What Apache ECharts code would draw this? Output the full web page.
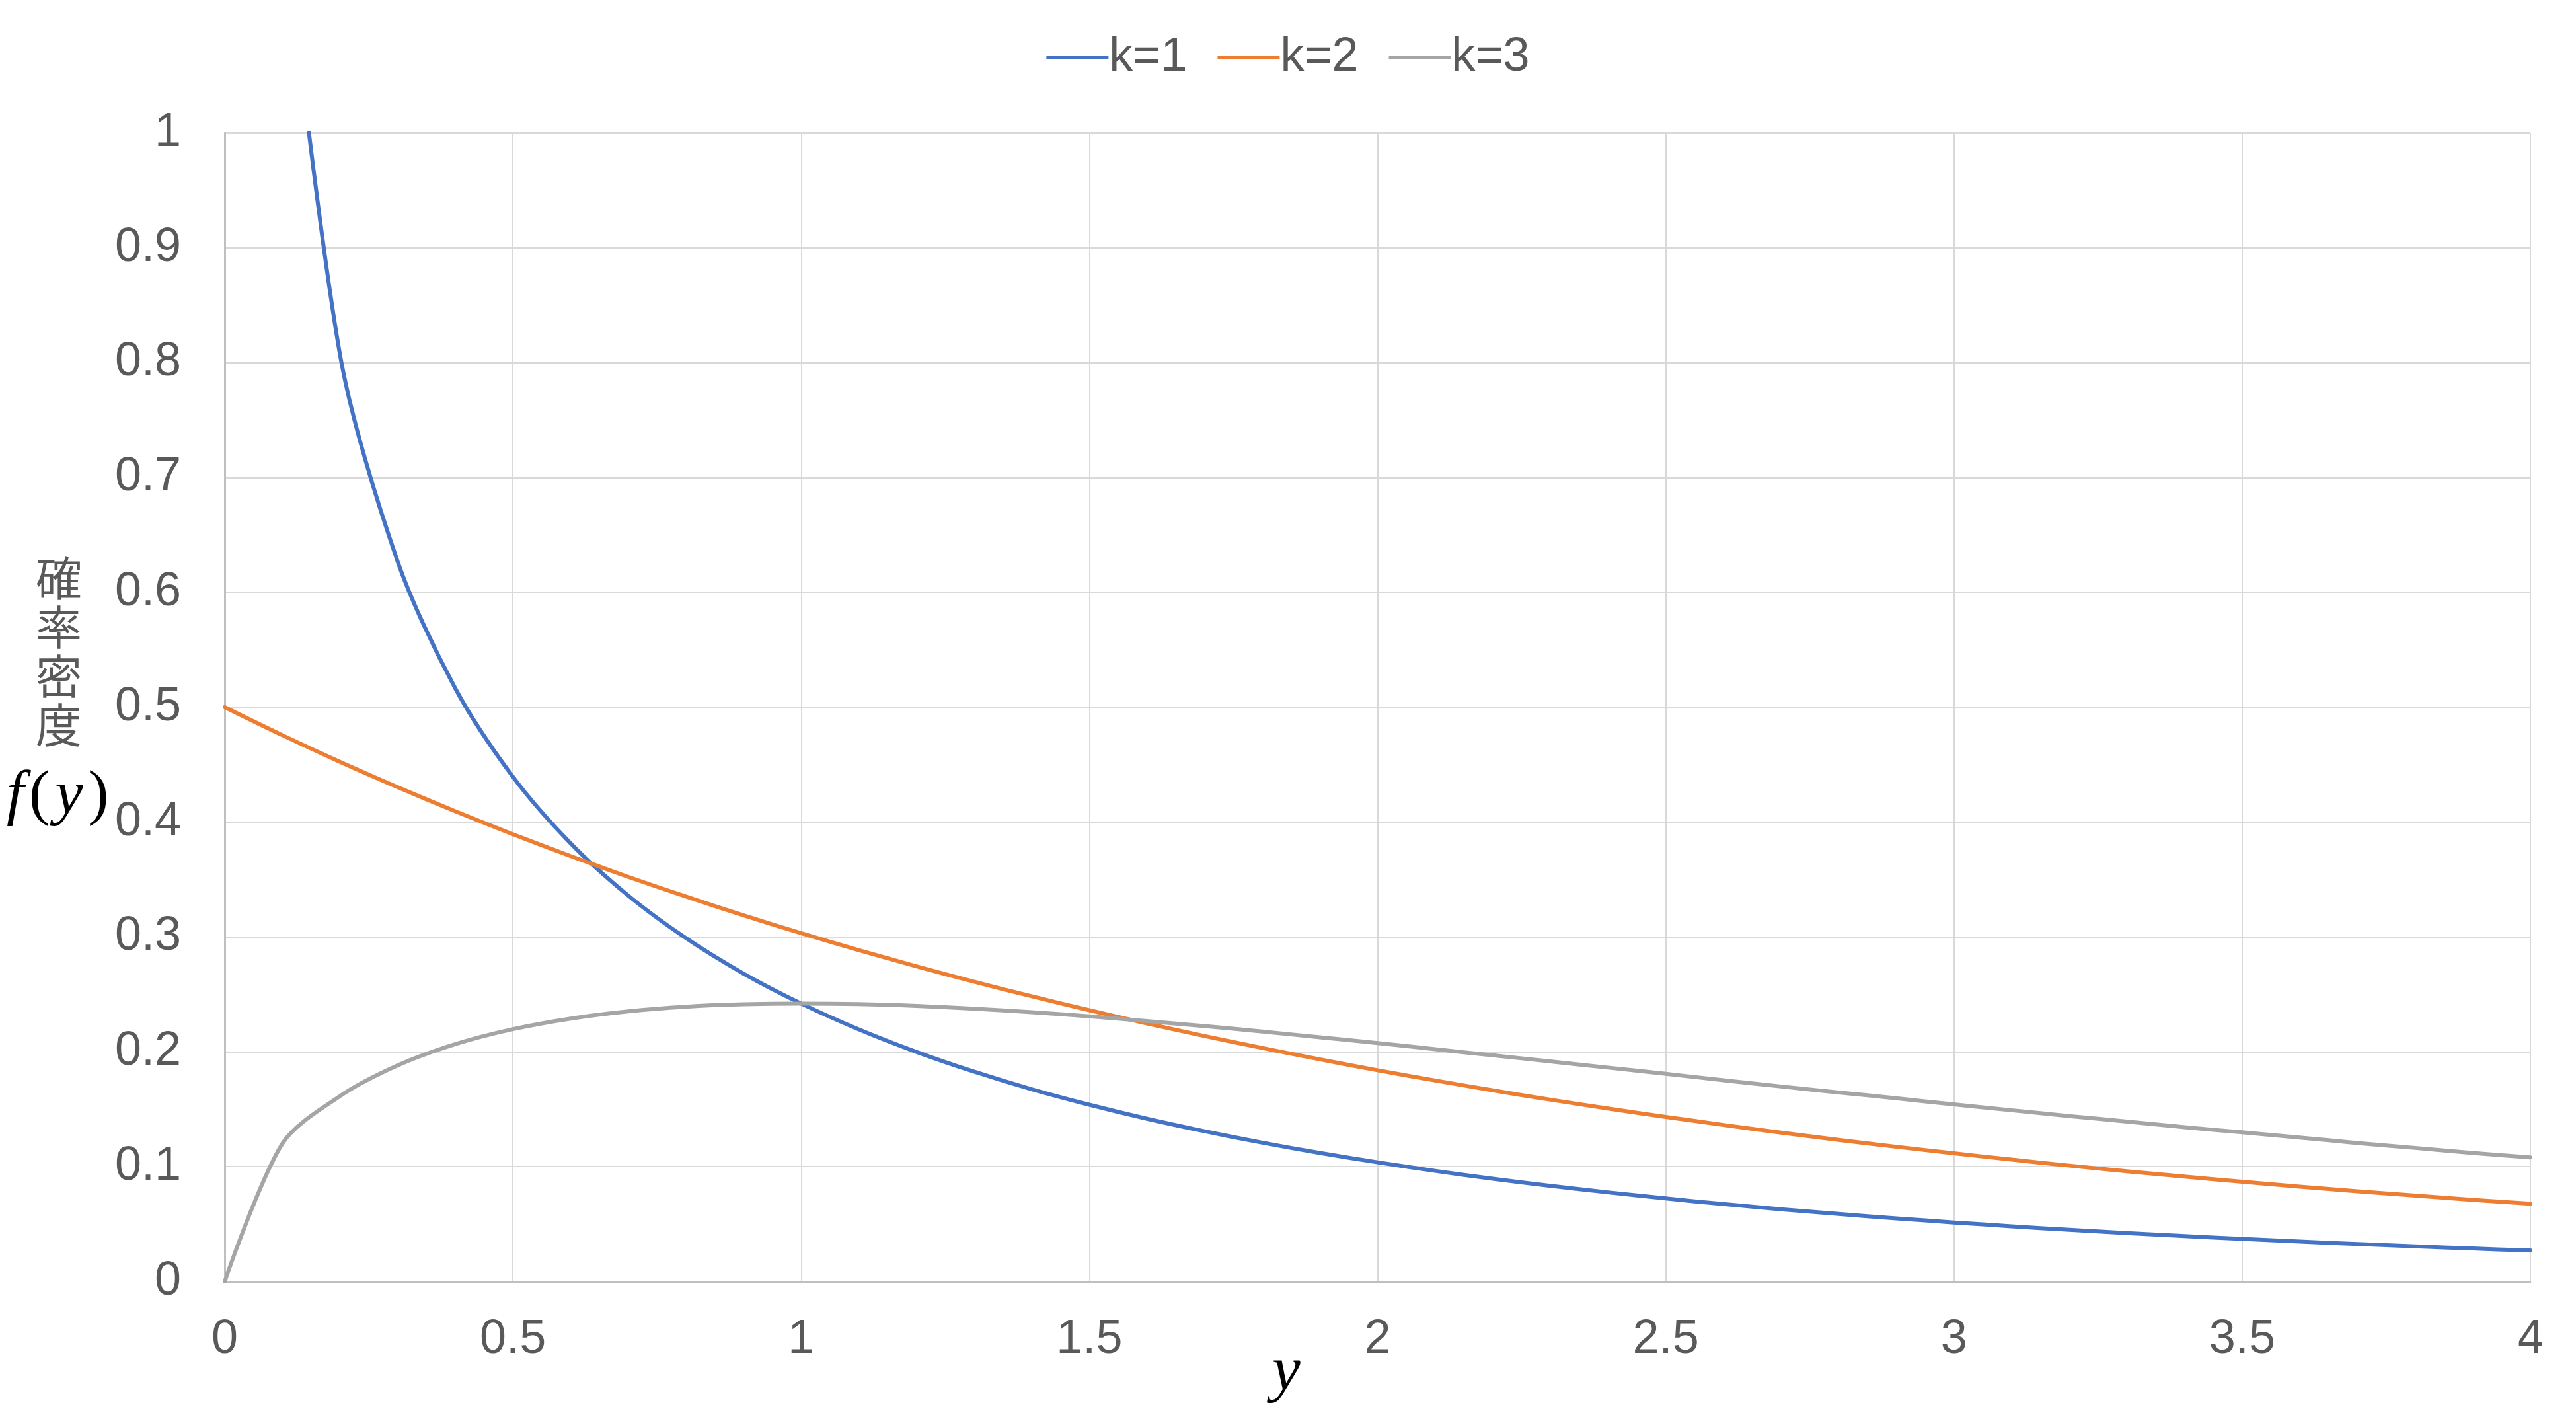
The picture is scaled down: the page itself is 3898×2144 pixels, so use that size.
<!DOCTYPE html>
<html>
<head>
<meta charset="utf-8">
<script src="https://cdn.jsdelivr.net/npm/echarts@6/dist/echarts.min.js"></script>
<style>
html,body{margin:0;padding:0;background:#fff;}
#chart{width:3898px;height:2144px;}
</style>
</head>
<body>
<div id="chart"></div>
<script>
// x values (y in the chart's notation)
const xValues = [0,0.1,0.2,0.3,0.4,0.5,0.6,0.7,0.8,0.9,1.0,1.1,1.2,1.3,1.4,1.5,1.6,1.7,1.8,1.9,2.0,2.1,2.2,2.3,2.4,2.5,2.6,2.7,2.8,2.9,3.0,3.1,3.2,3.3,3.4,3.5,3.6,3.7,3.8,3.9,4.0];
const seriesNames = ['k=1','k=2','k=3'];
const k1 = [null,1.2000,0.8070,0.6269,0.5164,0.4394,0.3815,0.3360,0.2990,0.2681,0.2420,0.2195,0.1999,0.1827,0.1674,0.1539,0.1417,0.1308,0.1209,0.1119,0.1038,0.0963,0.0895,0.0833,0.0776,0.0723,0.0674,0.0629,0.0588,0.0550,0.0514,0.0481,0.0450,0.0422,0.0395,0.0371,0.0348,0.0326,0.0306,0.0287,0.0270];
const k2 = [0.5000,0.4756,0.4524,0.4304,0.4094,0.3894,0.3704,0.3523,0.3352,0.3188,0.3033,0.2885,0.2744,0.2610,0.2483,0.2362,0.2247,0.2137,0.2033,0.1934,0.1839,0.1750,0.1664,0.1583,0.1506,0.1433,0.1363,0.1296,0.1233,0.1173,0.1116,0.1061,0.1009,0.0960,0.0913,0.0869,0.0826,0.0786,0.0748,0.0711,0.0677];
const k3 = [0,0.1200,0.1614,0.1881,0.2066,0.2197,0.2289,0.2352,0.2392,0.2413,0.2420,0.2415,0.2399,0.2375,0.2344,0.2309,0.2267,0.2224,0.2176,0.2126,0.2076,0.2022,0.1969,0.1916,0.1862,0.1808,0.1752,0.1698,0.1646,0.1595,0.1542,0.1491,0.1440,0.1393,0.1343,0.1299,0.1253,0.1206,0.1163,0.1119,0.1080];
const xTicks = [0,0.5,1,1.5,2,2.5,3,3.5,4];
const yTicks = [0,0.1,0.2,0.3,0.4,0.5,0.6,0.7,0.8,0.9,1];

const colors = ['#4472C4','#ED7D31','#A5A5A5'];
const font = "'Liberation Sans Narrow','Liberation Sans',Arial,sans-serif";
const serif = "'Liberation Serif','DejaVu Serif',serif";
const pairs = arr => xValues.map((x,i)=>[x,arr[i]]);

const chart = echarts.init(document.getElementById('chart'));
chart.setOption({
  animation:false,
  backgroundColor:'#fff',
  color:colors,
  legend:{
    top:46,
    left:'center',
    icon:'roundRect',
    itemWidth:94,
    itemHeight:6,
    itemGap:46,
    textStyle:{fontFamily:font,fontSize:72,color:'#595959',padding:[0,0,0,-4]},
    data:seriesNames
  },
  grid:{left:340,right:69,top:201,bottom:205,containLabel:false},
  xAxis:{
    type:'value',min:xTicks[0],max:xTicks[xTicks.length-1],interval:0.5,
    axisLine:{show:true,lineStyle:{color:'#BFBFBF',width:3}},
    axisTick:{show:false},
    axisLabel:{fontFamily:font,fontSize:72,color:'#595959',margin:52,formatter:v=>String(v)},
    splitLine:{show:true,lineStyle:{color:'#D9D9D9',width:2}}
  },
  yAxis:{
    type:'value',min:yTicks[0],max:yTicks[yTicks.length-1],interval:0.1,
    axisLine:{show:true,lineStyle:{color:'#BFBFBF',width:3}},
    axisTick:{show:false},
    axisLabel:{fontFamily:font,fontSize:72,color:'#595959',margin:66,formatter:v=>String(Math.round(v*10)/10)},
    splitLine:{show:true,lineStyle:{color:'#D9D9D9',width:2}}
  },
  graphic:[
    {type:'text',left:54,top:838,style:{text:'確\n率\n密\n度',fontFamily:"'Noto Sans CJK JP',sans-serif",fontSize:70,lineHeight:74,fill:'#595959',align:'center'}},
    {type:'text',left:10,top:1158,style:{
      text:'{a|f}{b|(}{a|y}{b|)}',
      rich:{
        a:{fontFamily:serif,fontStyle:'italic',fontSize:94,fill:'#000',padding:[0,8,0,8]},
        b:{fontFamily:serif,fontSize:94,fill:'#000'}
      }
    }},
    {type:'text',left:1925,top:2030,style:{text:'y',fontFamily:serif,fontStyle:'italic',fontSize:96,fill:'#000'}}
  ],
  series:[
    {name:seriesNames[0],type:'line',data:pairs(k1),smooth:0.3,showSymbol:false,symbol:'none',clip:true,lineStyle:{width:6,cap:'round',join:'round'}},
    {name:seriesNames[1],type:'line',data:pairs(k2),smooth:0.3,showSymbol:false,symbol:'none',clip:true,lineStyle:{width:6,cap:'round',join:'round'}},
    {name:seriesNames[2],type:'line',data:pairs(k3),smooth:0.3,showSymbol:false,symbol:'none',clip:true,lineStyle:{width:6,cap:'round',join:'round'}}
  ]
});
</script>
</body>
</html>
